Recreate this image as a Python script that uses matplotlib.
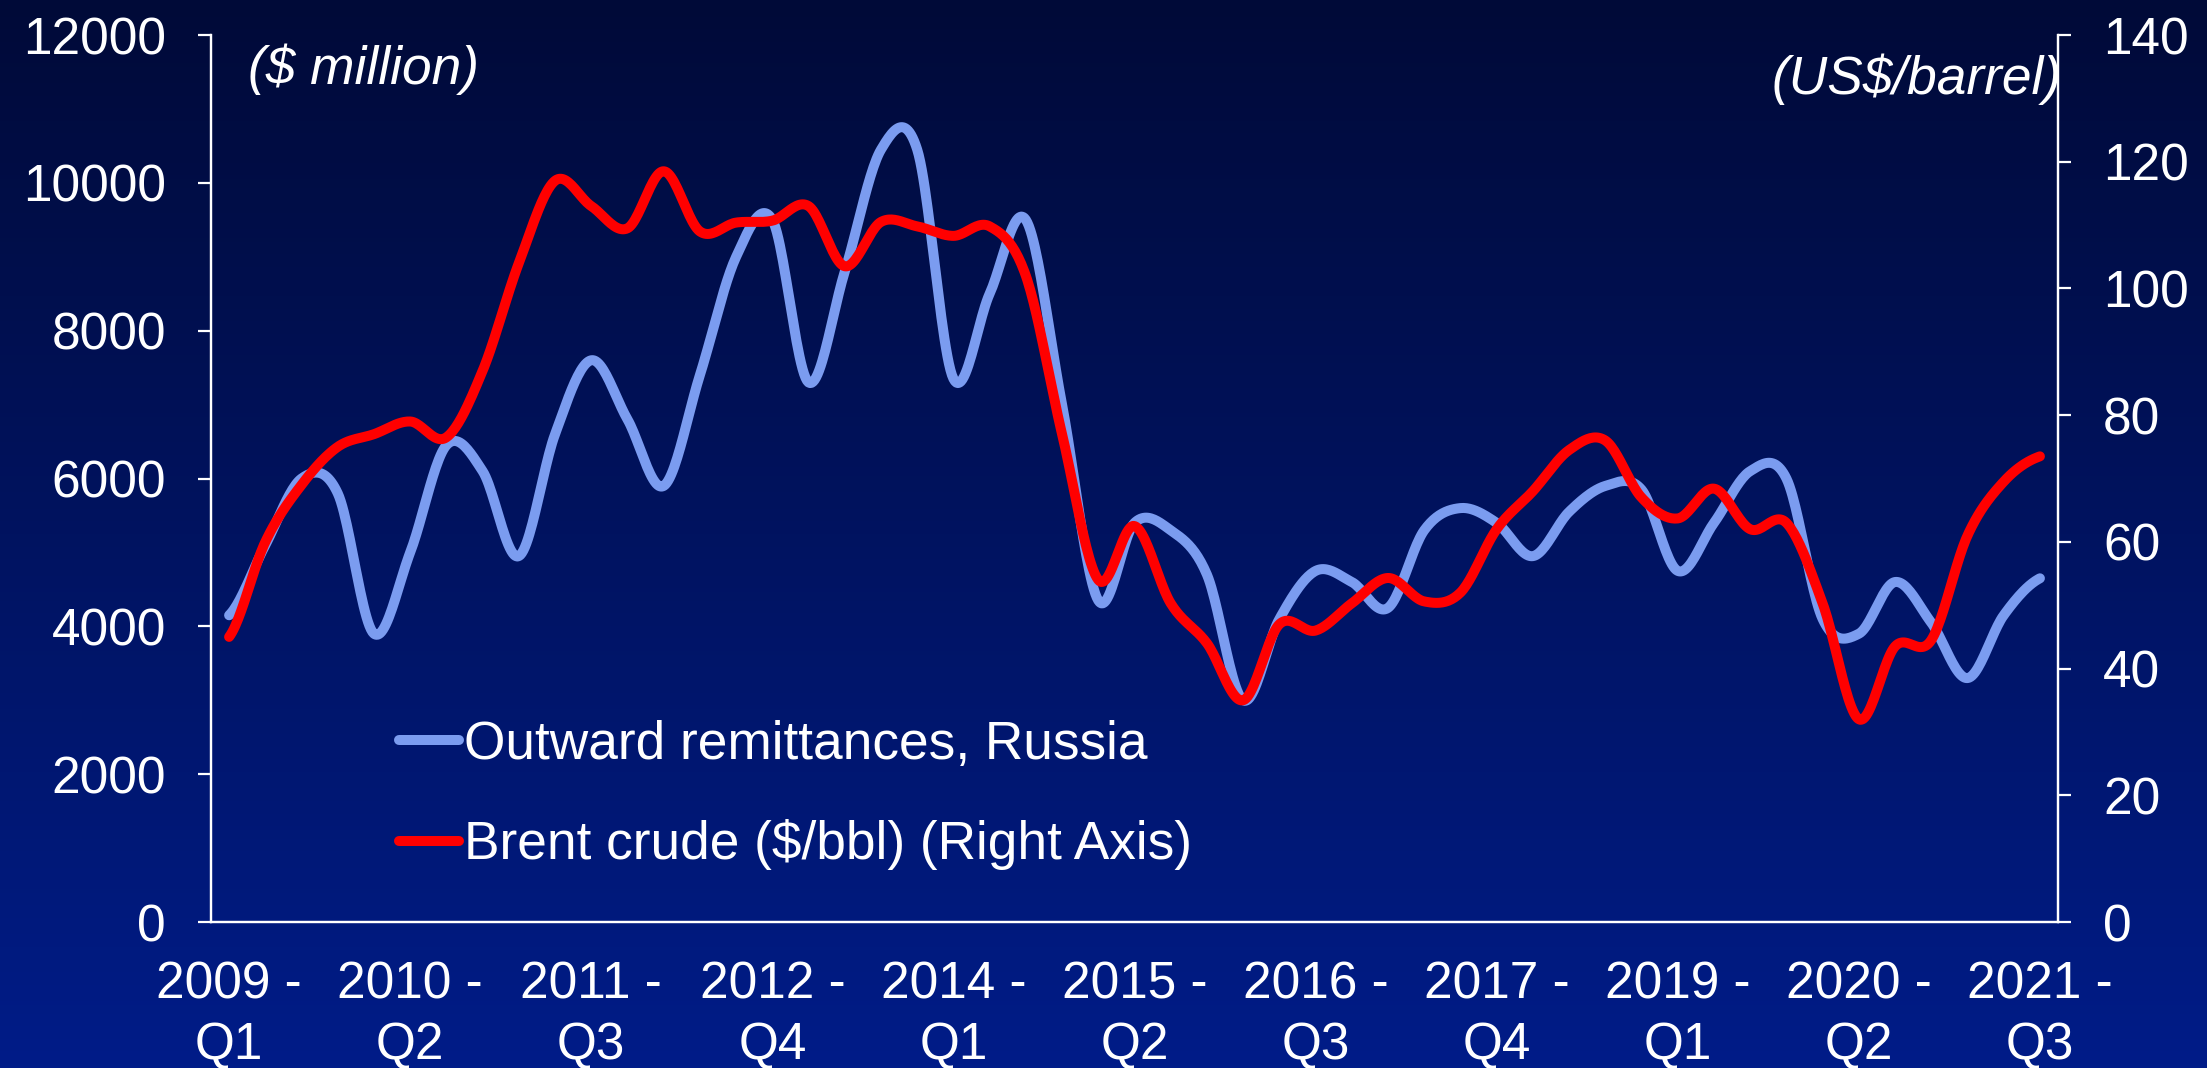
import numpy as np
import matplotlib
matplotlib.use('Agg')
import matplotlib.pyplot as plt
from matplotlib.colors import LinearSegmentedColormap
from matplotlib.lines import Line2D

plt.rcParams['font.family'] = ['Liberation Sans', 'DejaVu Sans']

# quarterly data, 2009 Q1 .. 2021 Q3
remittances = [4150, 5100, 6000, 5800, 3900, 5000, 6450, 6100, 4950, 6600,
               7600, 6800, 5900, 7400, 9000, 9500, 7300, 8800, 10450, 10450,
               7350, 8500, 9500, 7000, 4350, 5400, 5300, 4700, 3000, 4100,
               4750, 4600, 4250, 5300, 5600, 5400, 4950, 5550, 5900, 5850,
               4750, 5400, 6100, 6000, 4100, 3900, 4600, 4050, 3300, 4150,
               4650]
brent = [45, 60, 69, 75, 77, 79, 76.5, 87, 104, 117,
         113, 109.5, 118.5, 109, 110.4, 110.7, 113, 103.5, 110.5, 109.8,
         108.3, 109.8, 102, 77, 54, 62.5, 50.3, 44, 35, 47,
         46, 50.3, 54.3, 50.6, 52, 62, 68, 74.5, 76, 67,
         63.7, 68.4, 62, 63, 50.3, 32, 43.5, 44.5, 61, 69.5,
         73.5]
tick_labels = ['2009 -\nQ1', '2010 -\nQ2', '2011 -\nQ3', '2012 -\nQ4',
               '2014 -\nQ1', '2015 -\nQ2', '2016 -\nQ3', '2017 -\nQ4',
               '2019 -\nQ1', '2020 -\nQ2', '2021 -\nQ3']
tick_pos = np.arange(0, 51, 5)

BLUE = '#7b9cf0'
RED = '#ff0000'


def smooth(y, n=24):
    # Excel-style smoothed line (Catmull-Rom through the points)
    y = np.asarray(y, dtype=float)
    p = np.concatenate([[y[0]], y, [y[-1]]])
    xs, ys = [], []
    t = np.linspace(0, 1, n, endpoint=False)
    for i in range(len(y) - 1):
        p0, p1, p2, p3 = p[i], p[i + 1], p[i + 2], p[i + 3]
        m1 = (p2 - p0) / 2
        m2 = (p3 - p1) / 2
        h = (2*t**3 - 3*t**2 + 1)*p1 + (t**3 - 2*t**2 + t)*m1 \
            + (-2*t**3 + 3*t**2)*p2 + (t**3 - t**2)*m2
        xs.append(i + t)
        ys.append(h)
    xs.append([len(y) - 1])
    ys.append([y[-1]])
    return np.concatenate(xs), np.concatenate(ys)


fig = plt.figure(figsize=(22.07, 10.68), dpi=100)

# background gradient
bg = fig.add_axes([0, 0, 1, 1], zorder=-10)
cmap = LinearSegmentedColormap.from_list('bg', ['#000a38', '#001c88'])
bg.imshow(np.linspace(0, 1, 256).reshape(-1, 1), aspect='auto', cmap=cmap,
          extent=[0, 1, 0, 1])
bg.axis('off')

ax = fig.add_axes([0.0956, 0.1367, 0.8369, 0.8305])
ax.patch.set_alpha(0)
ax2 = ax.twinx()
ax2.patch.set_alpha(0)

x1, y1 = smooth(remittances)
ax.plot(x1, y1, color=BLUE, lw=7.2, solid_capstyle='round')
x2, y2 = smooth(brent)
ax2.plot(x2, y2, color=RED, lw=7.2, solid_capstyle='round')

ax.set_xlim(-0.5, 50.5)
ax.set_ylim(0, 12000)
ax2.set_ylim(0, 140)
ax.set_yticks(np.arange(0, 12001, 2000))
ax2.set_yticks(np.arange(0, 141, 20))
ax.set_xticks(tick_pos)
ax.set_xticklabels(tick_labels, linespacing=1.28)

for a in (ax, ax2):
    for s in a.spines.values():
        s.set_color('white')
        s.set_linewidth(1.6)
    a.spines['top'].set_visible(False)

ax.tick_params(axis='y', colors='white', labelsize=37, length=9.5, width=1.6, pad=23)
ax2.tick_params(axis='y', colors='white', labelsize=37, length=9.5, width=1.6, pad=23)
ax.tick_params(axis='x', colors='white', labelsize=37, length=0, pad=28)

fig.text(248/2207, 1 - 69/1068, '($ million)', color='white', fontsize=38.3,
         style='italic', ha='left', va='center')
fig.text(2062/2207, 1 - 79/1068, '(US$/barrel)', color='white', fontsize=38.3,
         style='italic', ha='right', va='center')

handles = [Line2D([], [], color=BLUE, lw=7.2, solid_capstyle='round'),
           Line2D([], [], color=RED, lw=7.2, solid_capstyle='round')]
leg = ax.legend(handles, ['Outward remittances, Russia', 'Brent crude ($/bbl) (Right Axis)'],
                loc='center left', bbox_to_anchor=(399/2207, 1 - 795/1068),
                bbox_transform=fig.transFigure, frameon=False, fontsize=38.3,
                handlelength=1.12, handletextpad=0.1, labelspacing=0.93,
                borderpad=0, borderaxespad=0, labelcolor='white')

fig.savefig('out.png', dpi=100)
